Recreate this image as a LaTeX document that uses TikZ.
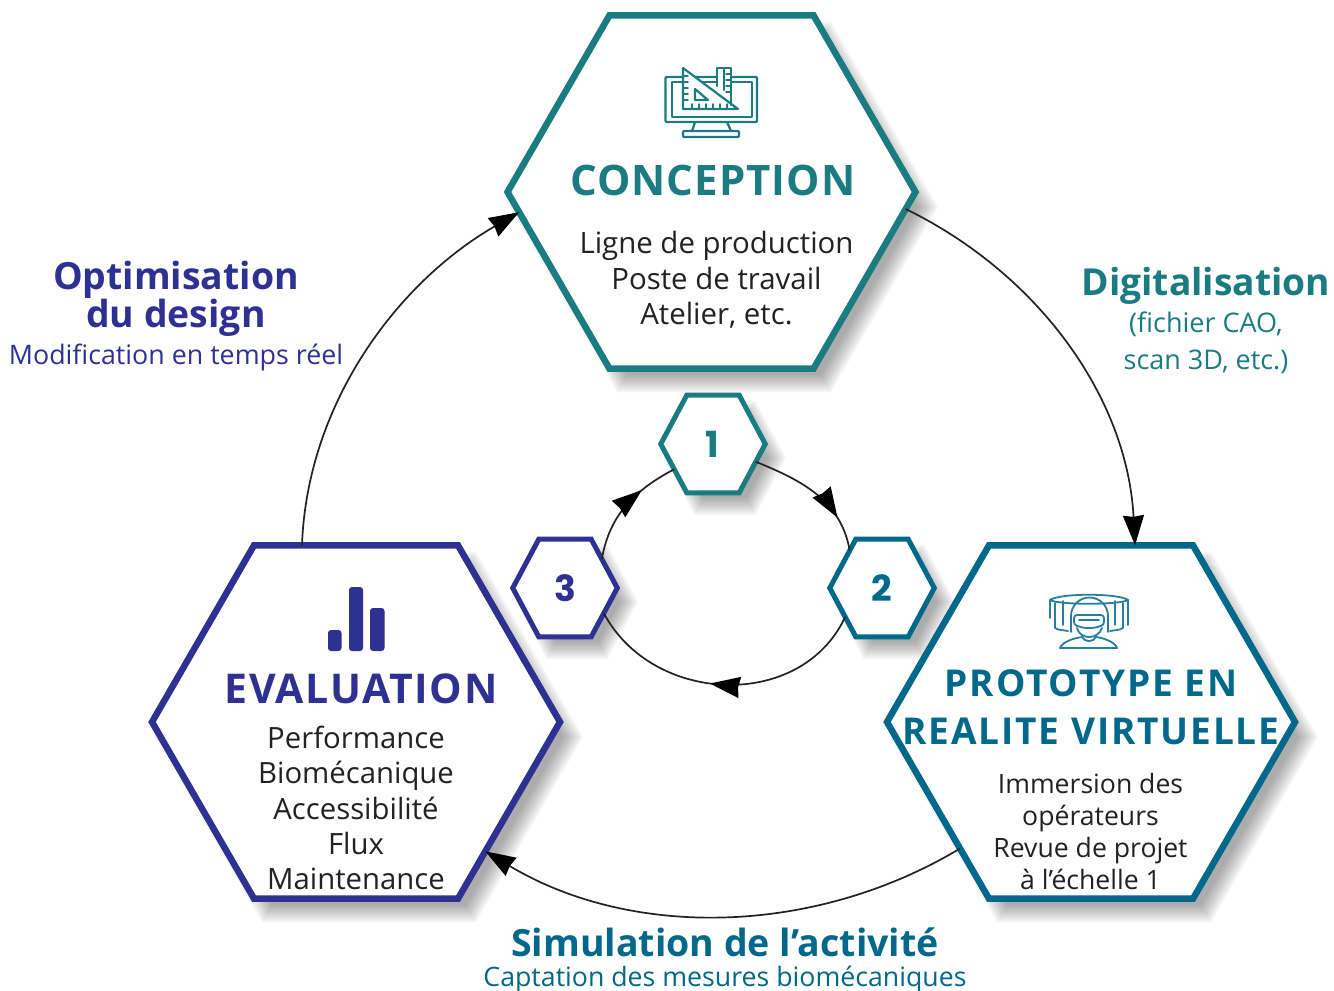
\documentclass[tikz,border=0pt]{standalone}
\usepackage{fontspec}
\setmainfont{Open Sans}
\newfontfamily\numfont{Poppins}
\usetikzlibrary{shapes.geometric,arrows.meta,decorations.markings,calc}
\definecolor{cteal}{HTML}{1A7C80}
\definecolor{cblue}{HTML}{00688A}
\definecolor{cpurple}{HTML}{2E3192}
\definecolor{cink}{HTML}{222222}
\newcommand{\fsz}[2]{\fontsize{#1}{#2}\selectfont}
\newcommand{\hexshadow}[5]{% x y r offset xscale
  \foreach \k in {-10,-8,...,10}{
    \fill[black,fill opacity=.034,shift={(#1+#4,#2-#4-2)},xscale=#5]
      (#3+\k,0) -- ++(120:#3+\k) -- ++(180:#3+\k) -- ++(240:#3+\k) -- ++(300:#3+\k) -- ++(0:#3+\k) -- cycle;
  }
}
\tikzset{
  x=1pt,y=1pt,
  hexbig/.style={regular polygon,regular polygon sides=6,minimum size=408pt,inner sep=0pt,outer sep=0pt,fill=white,line width=6.5pt,draw=#1},
  hexsmall/.style={regular polygon,regular polygon sides=6,minimum size=113pt,xscale=.925,transform shape,inner sep=0pt,outer sep=0pt,fill=white,line width=5pt,draw=#1},
  arcbig/.style={draw=cink,line width=1.7pt,-{Stealth[length=30pt,width=21pt,inset=1.5pt,black]}},
  arcsmall/.style={draw=cink,line width=1.7pt},
  midarrow/.style={postaction={decorate},decoration={markings,mark=at position #1 with {\arrow{Stealth[length=30pt,width=21pt,inset=1.5pt,black]}}}},
  body/.style={text=cink,align=center,inner sep=0pt},
  num/.style={font=\fsz{36}{36}\numfont\bfseries,inner sep=0pt},
  ico/.style={line width=2.2pt,line join=round,line cap=round},
}
\begin{document}
\begin{tikzpicture}
\useasboundingbox (0,0) rectangle (1334,-991);
% shadows
\hexshadow{711}{-192}{204}{13}{1}
\hexshadow{356}{-722}{204}{13}{1}
\hexshadow{1091}{-722}{204}{13}{1}
\hexshadow{713}{-444}{56}{12}{.925}
\hexshadow{565}{-588}{56}{12}{.925}
\hexshadow{882}{-588}{56}{12}{.925}
% hexagons
\node[hexbig=cteal]   (conc) at (711.5,-192) {};
\node[hexbig=cblue]   (proto) at (1091,-722) {};
\node[hexbig=cpurple] (eval) at (356,-722) {};
\node[shift={(713,-444)},hexsmall=cteal]   (one) {};
\node[shift={(882,-588)},hexsmall=cblue]   (two) {};
\node[shift={(565,-588)},hexsmall=cpurple] (three) {};
% connectors
\draw[arcbig] (conc.-5) to[out=-26,in=93,looseness=.93] (proto.76);
\draw[arcbig] (proto.224) to[out=211,in=-31,looseness=.915] (eval.-45);
\draw[arcbig] (eval.107) to[out=88,in=210,looseness=.91] (conc.186);
\draw[arcsmall,midarrow=.74] (one.-21) to[out=-22,in=100] (two.133);
\draw[arcsmall,midarrow=.55] (two.216) to[out=245,in=-62,looseness=1.1] (three.-31);
\draw[arcsmall,midarrow=.68] (three.36) to[out=80,in=208] (one.211);
% numbers
\node[num,text=cteal] (n1) at (712.5,-444) {1};
\node[num,text=cblue] (n2) at (881.5,-588) {2};
\node[num,text=cpurple] (n3) at (565,-588) {3};
% titles
\node[inner sep=0pt,text=cteal,font=\fsz{42}{42}\bfseries\addfontfeature{LetterSpace=2.4}] (tconc) at (713,-180) {CONCEPTION};
\node[inner sep=0pt,text=cpurple,font=\fsz{41}{41}\bfseries\addfontfeature{LetterSpace=4}] (teval) at (361,-689) {EVALUATION};
\node[inner sep=0pt,text=cblue,font=\fsz{37}{48}\bfseries\addfontfeature{LetterSpace=5},align=center] (tproto) at (1091,-707) {PROTOTYPE EN\\REALITE VIRTUELLE};
% bodies
\node[body,font=\fsz{29.4}{35.5}] (bconc) at (716.5,-280) {Ligne de production\\Poste de travail\\Atelier, etc.};
\node[body,font=\fsz{29.3}{35.2}] (beval) at (356,-808) {Performance\\Biomécanique\\Accessibilité\\Flux\\Maintenance};
\node[body,font=\fsz{26.6}{32}] (bproto) at (1090.5,-832) {Immersion des\\opérateurs\\Revue de projet\\à l’échelle 1};
% side labels
\node[inner sep=0pt,text=cteal,font=\fsz{37.2}{37}\bfseries] (ld1) at (1206,-286) {Digitalisation};
\node[inner sep=0pt,text=cteal,font=\fsz{27}{37},align=center] (ld2) at (1206,-343) {(fichier CAO,\\scan 3D, etc.)};
\node[inner sep=0pt,text=cpurple,font=\fsz{37.4}{38}\bfseries,align=center] (lo1) at (176,-299) {Optimisation\\du design};
\node[inner sep=0pt,text=cpurple,font=\fsz{26.8}{26}] (lo2) at (176,-357) {Modification en temps réel};
\node[inner sep=0pt,text=cblue,font=\fsz{37.5}{36}\bfseries] (ls1) at (725,-942.5) {Simulation de l’activité};
\node[inner sep=0pt,text=cblue,font=\fsz{26.7}{26}] (ls2) at (725,-979) {Captation des mesures biomécaniques};
% icon conception
\begin{scope}[ico,draw=cteal]
  \draw[rounded corners=1pt] (665.5,-77) rectangle (757,-122);
  \draw (672,-82) rectangle (752,-117);
  \draw (695,-122) -- (692,-131) (727,-122) -- (731,-131);
  \draw[rounded corners=1pt] (683,-131) rectangle (739,-137);
  \fill[white] (683,-68) -- (738,-109) -- (683,-109) -- cycle;
  \fill[white] (717,-68) rectangle (731,-100);
  \draw (717,-86) -- (717,-68) -- (731,-68) -- (731,-105);
  \draw (724,-68) -- (724,-90);
  \draw (683,-68) -- (738,-109) -- (683,-109) -- cycle;
  \draw (695,-89) -- (708,-100) -- (695,-100) -- cycle;
  \foreach \t in {76,82,88,94,100} \draw[line width=1.4pt] (683,-\t) -- (688,-\t);
  \foreach \t in {692,699,706,713,720,727} \draw[line width=1.4pt] (\t,-109) -- (\t,-104);
  \foreach \t in {74,80,86,92} \draw[line width=1.4pt] (726,-\t) -- (731,-\t);
\end{scope}
% icon VR
\begin{scope}[draw=cblue!85!white,line width=1.8pt,line join=round,line cap=round]
  \draw (1050,-600) .. controls (1060,-593) and (1118,-593) .. (1128,-600);
  \draw (1050,-600) .. controls (1058,-605) and (1120,-605) .. (1128,-600);
  \draw (1050,-600) -- (1050,-618) (1128,-600) -- (1128,-625);
  \draw (1055,-603) -- (1055,-628) .. controls (1058,-630) and (1062,-630) .. (1068,-631);
  \draw (1123,-603) -- (1123,-628) .. controls (1120,-630) and (1116,-630) .. (1110,-631);
  \draw (1063,-601) -- (1063,-625) (1115,-601) -- (1115,-625);
  \draw (1071,-632) -- (1071,-616) arc[start angle=180,end angle=0,radius=18.5] -- (1108,-632);
  \draw[rounded corners=3pt] (1074,-615) -- (1104,-615) -- (1104,-625) -- (1094,-628) -- (1084,-628) -- (1074,-625) -- cycle;
  \draw (1079,-620) -- (1099,-620);
  \draw (1077,-628) .. controls (1080,-640) and (1098,-640) .. (1102,-628);
  \draw (1082,-636) .. controls (1084,-643) and (1094,-643) .. (1096,-636);
  \draw (1060,-648) .. controls (1062,-642) and (1074,-638) .. (1082,-637);
  \draw (1117,-648) .. controls (1115,-642) and (1104,-638) .. (1096,-637);
  \draw (1060,-648) -- (1117,-648);
\end{scope}
% icon bars
\fill[cpurple,rounded corners=3pt] (328,-630) rectangle (341.5,-651);
\fill[cpurple,rounded corners=3pt] (349,-587) rectangle (363,-651);
\fill[cpurple,rounded corners=3pt] (370,-608) rectangle (384.5,-651);
\end{tikzpicture}
\end{document}
